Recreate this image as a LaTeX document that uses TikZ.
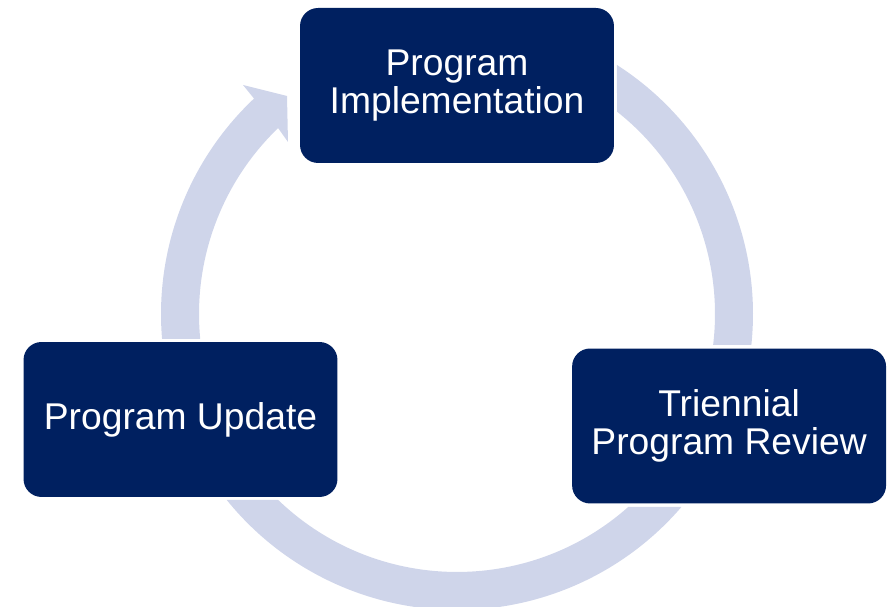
\documentclass[tikz,border=0pt]{standalone}
\usepackage{fontspec}
\setmainfont{Liberation Sans}
\usepackage{xcolor}
\usepackage{tikz}
\usetikzlibrary{positioning}

\definecolor{navy}{HTML}{002060}
\definecolor{ringblue}{HTML}{CFD5EA}

\begin{document}
\begin{tikzpicture}[x=0.02cm, y=0.02cm, main/.style = {rectangle, rounded corners=0.36cm, fill=navy, text=white, minimum width=6.28cm, minimum height=3.1cm, inner sep=0pt, align=center, font=\fontsize{21.2}{21.8}\selectfont}, band/.style={fill=ringblue, draw=none}]

\useasboundingbox (0,0) rectangle (894,607);
\coordinate (c) at (457,293);

% the cycle ring, cut into three pieces
\begin{scope}[shift={(c)}]
\path[band] (57.28:296) arc[start angle=57.28, end angle=-6.01, radius=296]
    -- (-6.90:258) arc[start angle=-6.90, end angle=51.67, radius=258] -- cycle;
\path[band] (218.93:296) arc[start angle=218.93, end angle=319.31, radius=296]
    -- (311.58:258) arc[start angle=311.58, end angle=226.13, radius=258] -- cycle;
% left piece with the arrow head
\path[band] (184.84:296) arc[start angle=184.84, end angle=133.3, radius=296]
    -- (-214,229) -- (-170,218) -- (-169,172)
    -- (133.9:258) arc[start angle=133.9, end angle=185.56, radius=258] -- cycle;
\end{scope}

\node[main] (impl) at (457,521.5) {Program\\Implementation};
\node[main] (upd) at (180.5,187.5) {Program Update};
\node[main] (rev) [right=4.68cm of upd, yshift=-0.13cm] {Triennial\\Program Review};

\end{tikzpicture}
\end{document}
